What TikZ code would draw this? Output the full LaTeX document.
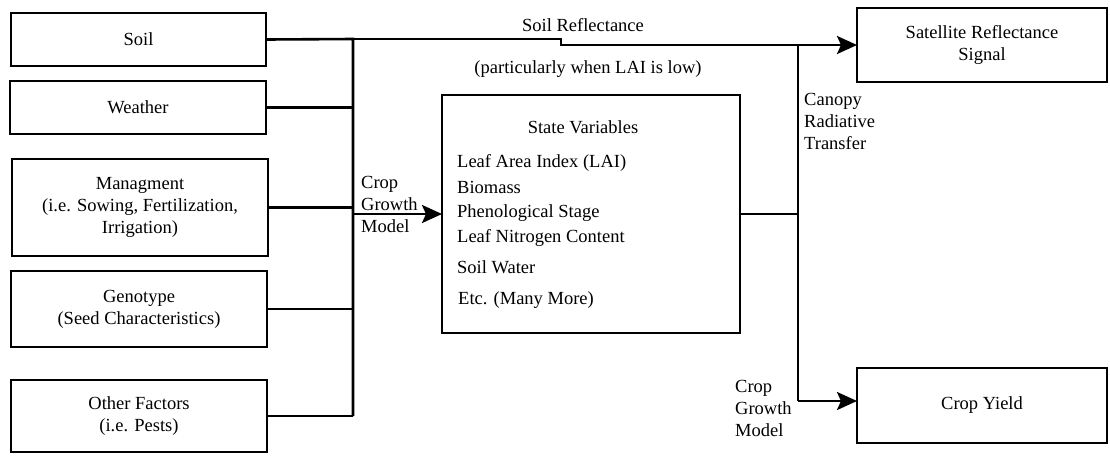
\documentclass[tikz,border=0pt]{standalone}
\usepackage{fontspec}
\setmainfont{Liberation Serif}
\usetikzlibrary{arrows.meta}
\begin{document}
\begin{tikzpicture}[x=1pt,y=-1pt,
  every node/.style={font=\fontsize{18.5}{22}\selectfont, inner sep=0pt},
  box/.style={draw, line width=2.6pt, align=center, outer sep=0pt},
  wire/.style={line width=2.6pt},
  arr/.style={wire, -{Stealth[length=20pt,width=18pt,inset=4pt]}},
  lbl/.style={align=left, anchor=west}]
\useasboundingbox (0,0) rectangle (1110,456);
% input boxes
\node[box, minimum width=255pt, minimum height=53pt] (soil) at (138.5,39.5) {Soil};
\node[box, minimum width=256pt, minimum height=53pt] (weather) at (138,107.5) {Weather};
\node[box, minimum width=256pt, minimum height=97pt] (mgmt) at (140,207.5) {Managment\\(i.e. Sowing, Fertilization,\\Irrigation)};
\node[box, minimum width=256pt, minimum height=76pt] (geno) at (139,309) {Genotype\\(Seed Characteristics)};
\node[box, minimum width=256pt, minimum height=72pt] (other) at (139,416) {Other Factors\\(i.e. Pests)};
% state box
\node[box, minimum width=298pt, minimum height=238pt] (state) at (591,214) {};
\node (svt) at (583,127) {State Variables};
\node[anchor=west] (sv1) at (457,163) {Leaf Area Index (LAI)};
\node[anchor=west] (sv2) at (457,187) {Biomass};
\node[anchor=west] (sv3) at (457,213) {Phenological Stage};
\node[anchor=west] (sv4) at (457,238) {Leaf Nitrogen Content};
\node[anchor=west] (sv5) at (457,267) {Soil Water};
\node[anchor=west] (sv6) at (458,300) {Etc. (Many More)};
% output boxes
\node[box, minimum width=250pt, minimum height=74pt] (sat) at (982,45) {Satellite Reflectance\\Signal};
\node[box, minimum width=250pt, minimum height=75pt] (yield) at (982,405.5) {Crop Yield};
% coordinates
\coordinate (busTop) at (353,39);
\coordinate (busBot) at (353,416);
\coordinate (step1) at (561,39);
\coordinate (step2) at (561,45);
\coordinate (rTop) at (798,45);
\coordinate (rMid) at (798,214);
\coordinate (rBot) at (798,401);
\coordinate (arrStart) at (353,214);
% connectors
\draw[wire] (soil.east) -- (busTop) -- (busBot);
\draw[arr] (busTop) -- (step1) -- (step2) -- (sat.west);
\draw[wire] (weather.east) -- (353,107.5);
\draw[wire] (mgmt.east) -- (353,207.5);
\draw[wire] (geno.east) -- (353,309);
\draw[wire] (other.east) -- (busBot);
\draw[arr] (arrStart) -- (state.west);
\draw[wire] (state.east) -- (rMid);
\draw[wire] (rTop) -- (rBot);
\draw[arr] (rBot) -- (yield.west |- rBot);
% labels
\node (lsr) at (583,25) {Soil Reflectance};
\node (lpart) at (588,69) {(particularly when LAI is low)};
\node[lbl] (lcgm1) at (361,204) {Crop\\Growth\\Model};
\node[lbl] (lcrt) at (804,121) {Canopy\\Radiative\\Transfer};
\node[lbl] (lcgm2) at (735,408) {Crop\\Growth\\Model};
\end{tikzpicture}
\end{document}
